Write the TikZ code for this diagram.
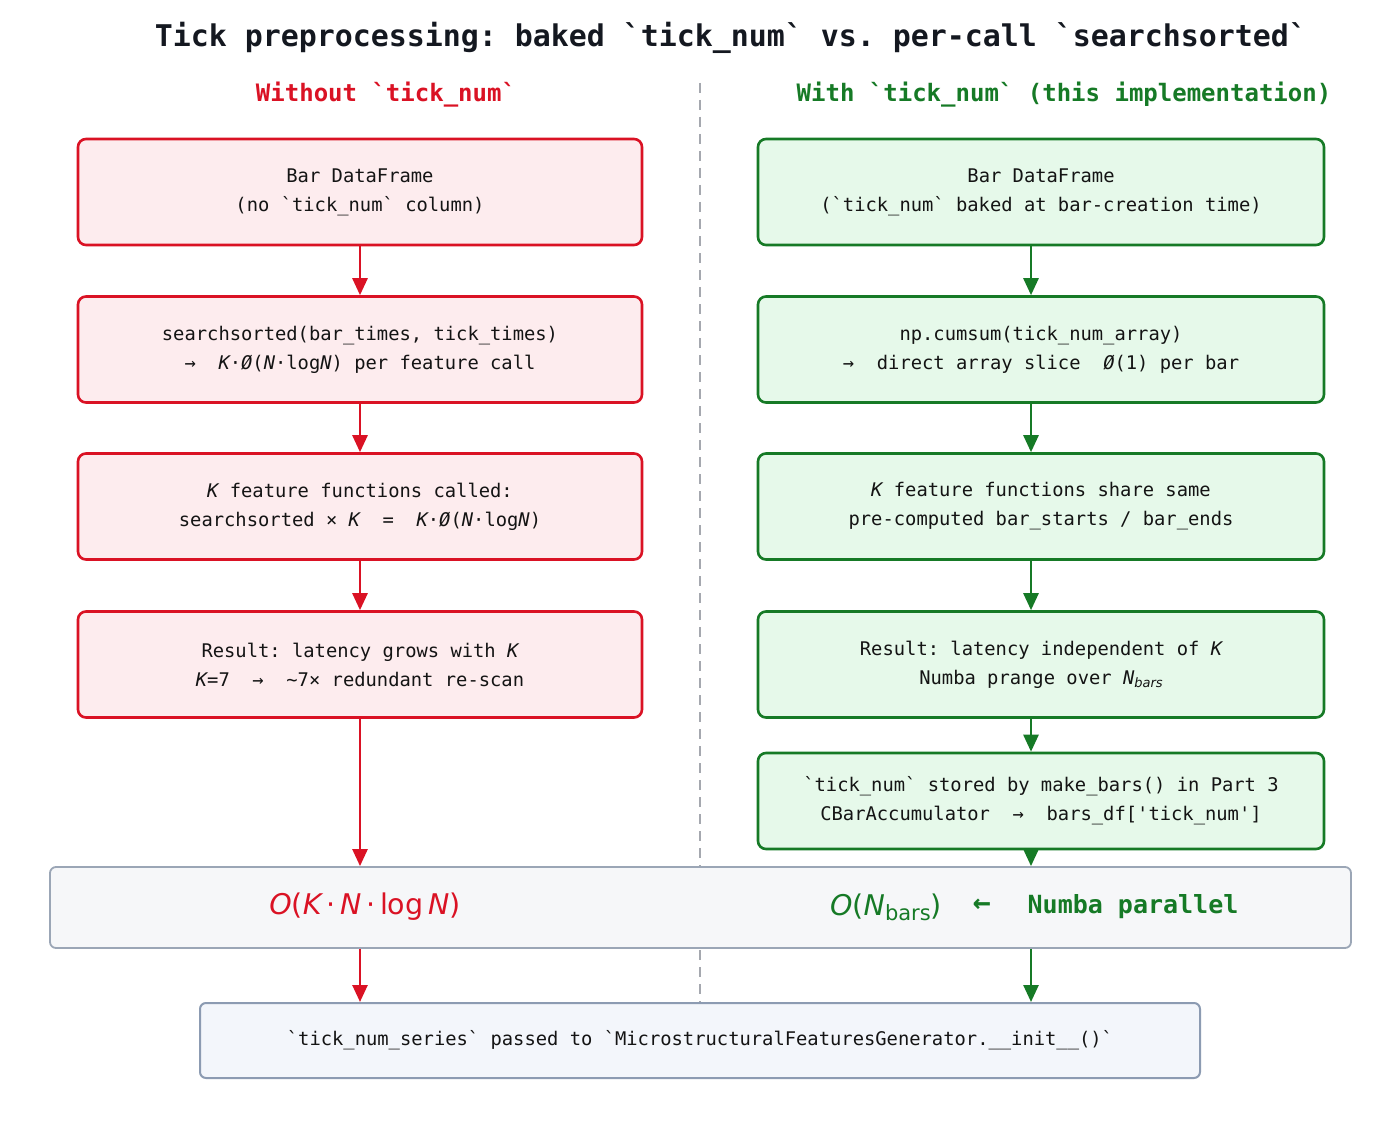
\documentclass[tikz,border=0pt]{standalone}
\usepackage{fontspec}
\setmonofont{DejaVu Sans Mono}
\newfontfamily\msans{DejaVu Sans}
\usetikzlibrary{arrows.meta}
\definecolor{redc}{RGB}{218,18,36}
\definecolor{redfill}{RGB}{253,236,238}
\definecolor{grnc}{RGB}{22,122,38}
\definecolor{grnfill}{RGB}{230,249,234}
\definecolor{barfill}{RGB}{246,247,249}
\definecolor{barline}{RGB}{155,166,182}
\definecolor{botfill}{RGB}{243,246,251}
\definecolor{botline}{RGB}{140,155,178}
\definecolor{dashc}{RGB}{165,168,175}
\definecolor{titlec}{RGB}{20,24,32}
\newcommand{\kk}{{\itshape K}}
\newcommand{\nn}{{\itshape N}}
\newcommand{\oo}{{\itshape Ø}}
\newcommand{\sbars}{\raisebox{-0.35ex}{\msans\itshape\fontsize{13}{13}\selectfont bars}}
\tikzset{
  box/.style={rectangle, rounded corners=8pt, line width=2.6pt, minimum height=106pt,
    align=center, inner sep=0pt, text=black!92,
    font=\ttfamily\fontsize{18.8}{29}\selectfont},
  lbox/.style={box, draw=redc, fill=redfill, minimum width=564pt},
  rbox/.style={box, draw=grnc, fill=grnfill, minimum width=566pt},
  rarr/.style={draw=redc, line width=2.6pt, -{Triangle[length=17pt,width=15pt]}},
  garr/.style={draw=grnc, line width=2.6pt, -{Triangle[length=17pt,width=15pt]}},
  hdr/.style={font=\ttfamily\bfseries\fontsize{24}{28}\selectfont, inner sep=0pt},
}
\begin{document}
\begin{tikzpicture}[x=1pt,y=-1pt]
\useasboundingbox[fill=white] (0,0) rectangle (1397,1126);
\coordinate (top) at (700,83);
\coordinate (bot) at (700,1002);
\coordinate (ax) at (1031,0);
\draw[dashc, line width=2pt, dash pattern=on 10pt off 7pt] (top) -- (bot);

\node[font=\ttfamily\bfseries\fontsize{29.9}{34}\selectfont, text=titlec, inner sep=0pt] (title) at (731,38)
  {Tick preprocessing: baked `tick\_num` vs. per-call `searchsorted`};
\node[hdr, text=redc] (hl) at (386,95) {Without `tick\_num`};
\node[hdr, text=grnc] (hr) at (1064,95) {With `tick\_num` (this implementation)};

% left column
\node[lbox] (l1) at (360,192) {Bar DataFrame\\(no `tick\_num` column)};
\node[lbox] (l2) at (360,349.5) {searchsorted(bar\_times, tick\_times)\\→\ \ \kk·\oo(\nn·log\nn) per feature call};
\node[lbox] (l3) at (360,506.5) {\kk\ feature functions called:\\searchsorted\ ×\ \kk\ \ =\ \ \kk·\oo(\nn·log\nn)};
\node[lbox] (l4) at (360,664.5) {Result: latency grows with \kk\\\kk=7\ \ →\ \ \textasciitilde7× redundant re-scan};

% right column
\node[rbox] (r1) at (1041,192) {Bar DataFrame\\(`tick\_num` baked at bar-creation time)};
\node[rbox] (r2) at (1041,349.5) {np.cumsum(tick\_num\_array)\\→\ \ direct array slice\ \ \oo(1) per bar};
\node[rbox] (r3) at (1041,506.5) {\kk\ feature functions share same\\pre-computed bar\_starts / bar\_ends};
\node[rbox] (r4) at (1041,664.5) {Result: latency independent of \kk\\Numba prange over \nn\sbars};
\node[rbox, minimum height=96pt] (r5) at (1041,801) {`tick\_num` stored by make\_bars() in Part 3\\CBarAccumulator\ \ →\ \ bars\_df['tick\_num']};

% bar
\node[rectangle, rounded corners=6pt, draw=barline, fill=barfill, line width=1.8pt,
  minimum width=1301pt, minimum height=81pt, inner sep=0pt] (bar) at (700.5,907.5) {};
\node[text=redc, inner sep=0pt, font=\msans\fontsize{28.5}{30}\selectfont] (cl) at (365,907)
  {{\itshape O}({\itshape K}\,·\,{\itshape N}\,·\,log\,{\itshape N})};
\node[text=grnc, inner sep=0pt, font=\msans\fontsize{28.5}{30}\selectfont] (cr) at (886,907)
  {{\itshape O}({\itshape N}\raisebox{-0.3ex}{\fontsize{21}{21}\selectfont bars})};
\node[text=grnc, inner sep=0pt, font=\ttfamily\bfseries\fontsize{30}{30}\selectfont] (la) at (982,906) {←};
\node[text=grnc, inner sep=0pt, font=\ttfamily\bfseries\fontsize{25}{30}\selectfont] (np) at (1133,907) {Numba parallel};

% bottom box
\node[rectangle, rounded corners=6pt, draw=botline, fill=botfill, line width=2pt,
  minimum width=1000pt, minimum height=75pt, inner sep=0pt, text=black!92,
  font=\ttfamily\fontsize{18.8}{24}\selectfont] (fin) at (700,1040.5)
  {`tick\_num\_series` passed to `MicrostructuralFeaturesGenerator.\_\_init\_\_()`};

% arrows
\draw[rarr] (l1) -- (l2);
\draw[rarr] (l2) -- (l3);
\draw[rarr] (l3) -- (l4);
\draw[rarr] (l4.south) -- (l4.south |- bar.north);
\draw[rarr] (bar.south -| l4.south) -- (fin.north -| l4.south);
\draw[garr] (r1.south -| ax) -- (r2.north -| ax);
\draw[garr] (r2.south -| ax) -- (r3.north -| ax);
\draw[garr] (r3.south -| ax) -- (r4.north -| ax);
\draw[garr] (r4.south -| ax) -- (r5.north -| ax);
\draw[garr] (r5.south -| ax) -- (bar.north -| ax);
\draw[garr] (bar.south -| ax) -- (fin.north -| ax);
\end{tikzpicture}
\end{document}
